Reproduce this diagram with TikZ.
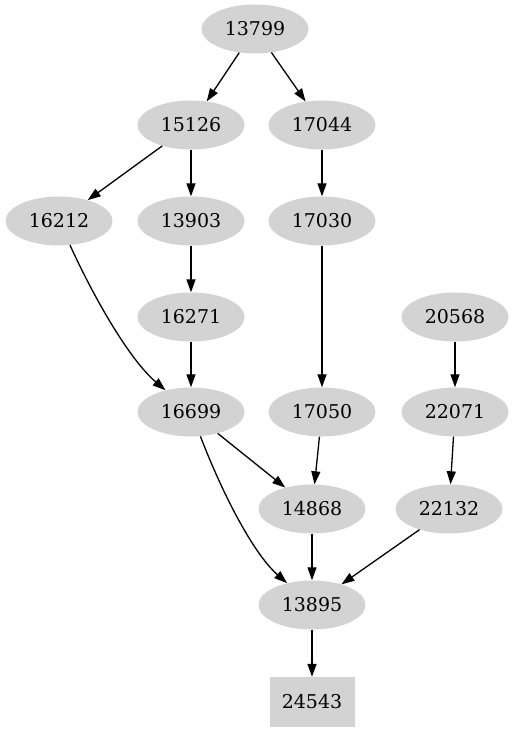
\documentclass[tikz,border=0pt]{standalone}
\usepackage{fontspec}
\setmainfont{DejaVu Serif}
\usetikzlibrary{arrows.meta,shapes.geometric}
\definecolor{lgray}{RGB}{211,211,211}
\tikzset{
  nd/.style={ellipse,fill=lgray,draw=none,minimum width=107pt,minimum height=49pt,inner sep=0pt,font=\fontsize{19}{20}\selectfont},
  bx/.style={rectangle,fill=lgray,draw=none,minimum width=85pt,minimum height=50pt,inner sep=0pt,font=\fontsize{19}{20}\selectfont},
  ed/.style={draw=black,line width=1.3pt,-{Triangle[length=13pt,width=9pt]}}
}
\begin{document}
\begin{tikzpicture}[x=1pt,y=-1pt]
\useasboundingbox (0,0) rectangle (514,731);
\node[nd] (a13799) at (255,29) {13799};
\node[nd] (a15126) at (191,125) {15126};
\node[nd] (a17044) at (322,125) {17044};
\node[nd] (a16212) at (59,221) {16212};
\node[nd] (a13903) at (191,221) {13903};
\node[nd] (a17030) at (322,221) {17030};
\node[nd] (a16271) at (191,317) {16271};
\node[nd] (a20568) at (455,317) {20568};
\node[nd] (a16699) at (191,412) {16699};
\node[nd] (a17050) at (322,412) {17050};
\node[nd] (a22071) at (455,412) {22071};
\node[nd] (a14868) at (312,509) {14868};
\node[nd] (a22132) at (449,509) {22132};
\node[nd] (a13895) at (312,605) {13895};
\node[bx] (a24543) at (312,702) {24543};
\draw[ed] (a13799) -- (a15126);
\draw[ed] (a13799) -- (a17044);
\draw[ed] (a15126) -- (a16212);
\draw[ed] (a15126) -- (a13903);
\draw[ed] (a17044) -- (a17030);
\draw[ed] (a13903) -- (a16271);
\draw[ed] (a16271) -- (a16699);
\draw[ed] (a17030) -- (a17050);
\draw[ed] (a20568) -- (a22071);
\draw[ed] (a16212) .. controls (95,300) and (130,360) .. (a16699);
\draw[ed] (a16699) -- (a14868);
\draw[ed] (a16699) .. controls (225,500) and (255,555) .. (a13895);
\draw[ed] (a17050) -- (a14868);
\draw[ed] (a22071) -- (a22132);
\draw[ed] (a14868) -- (a13895);
\draw[ed] (a22132) -- (a13895);
\draw[ed] (a13895) -- (a24543);
\end{tikzpicture}
\end{document}
